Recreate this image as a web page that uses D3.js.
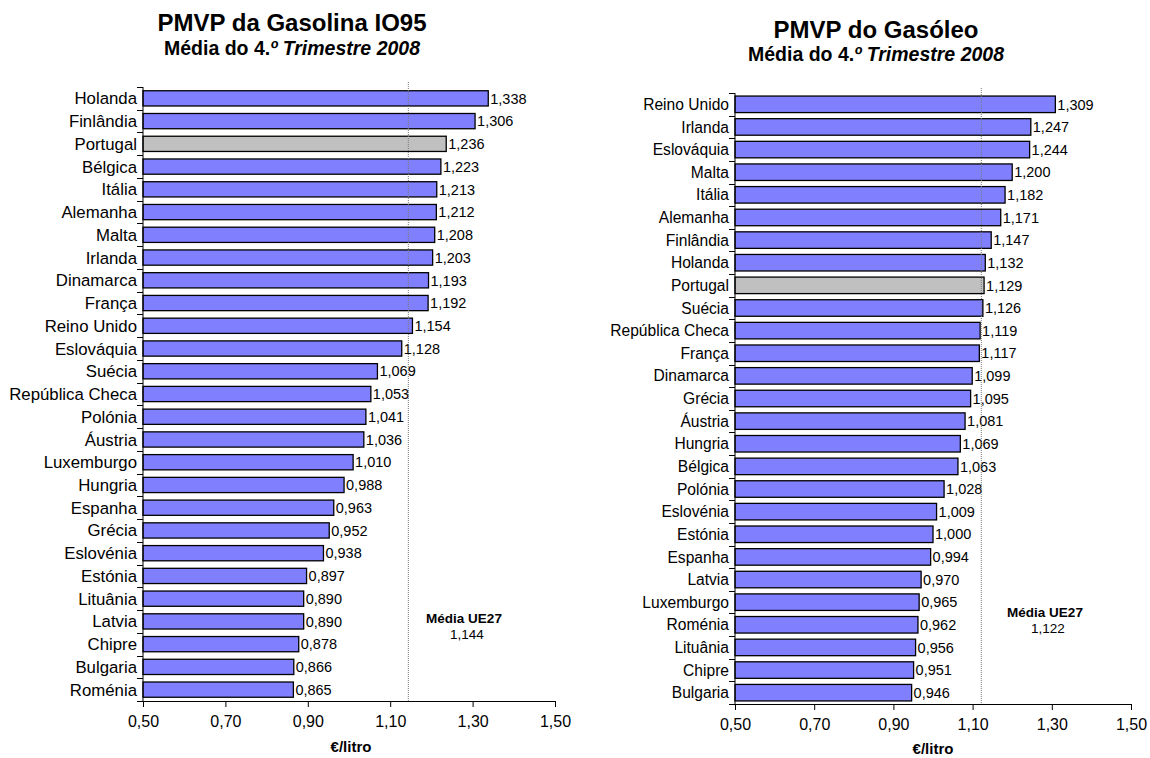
<!DOCTYPE html>
<html><head><meta charset="utf-8">
<script src="https://cdn.jsdelivr.net/npm/d3@7"></script>
<style>body{margin:0;background:#fff;}svg{display:block;font-family:Arial,"Liberation Sans",sans-serif;}</style>
</head><body>
<svg id="c" width="1150" height="758"></svg>
<script>
const gasCountries = ["Holanda","Finlândia","Portugal","Bélgica","Itália","Alemanha","Malta","Irlanda","Dinamarca","França","Reino Unido","Eslováquia","Suécia","República Checa","Polónia","Áustria","Luxemburgo","Hungria","Espanha","Grécia","Eslovénia","Estónia","Lituânia","Latvia","Chipre","Bulgaria","Roménia"];
const gasValues = [1.338,1.306,1.236,1.223,1.213,1.212,1.208,1.203,1.193,1.192,1.154,1.128,1.069,1.053,1.041,1.036,1.010,0.988,0.963,0.952,0.938,0.897,0.890,0.890,0.878,0.866,0.865];
const gasAvg = 1.144;

const dieCountries = ["Reino Unido","Irlanda","Eslováquia","Malta","Itália","Alemanha","Finlândia","Holanda","Portugal","Suécia","República Checa","França","Dinamarca","Grécia","Áustria","Hungria","Bélgica","Polónia","Eslovénia","Estónia","Espanha","Latvia","Luxemburgo","Roménia","Lituânia","Chipre","Bulgaria"];
const dieValues = [1.309,1.247,1.244,1.200,1.182,1.171,1.147,1.132,1.129,1.126,1.119,1.117,1.099,1.095,1.081,1.069,1.063,1.028,1.009,1.000,0.994,0.970,0.965,0.962,0.956,0.951,0.946];
const dieAvg = 1.122;

const xTicks = [0.5,0.7,0.9,1.1,1.3,1.5];
const highlight = "Portugal";
const fmt = v => d3.format(".3f")(v).replace(".", ",");
const fmtT = v => d3.format(".2f")(v).replace(".", ",");

const svg = d3.select("#c");

function drawChart(o) {
  const g = svg.append("g");
  const x = d3.scaleLinear().domain([0.5,1.5]).range([o.x0,o.x1]);
  const y = d3.scaleBand().domain(o.cats).range([o.y0,o.y1]).paddingInner(o.pad).paddingOuter(o.pad/2);
  const data = o.cats.map((c,i)=>({c, v:o.vals[i]}));

  // titles
  g.append("text").attr("x",o.tx).attr("y",o.ty1).attr("text-anchor","middle")
    .attr("font-size",24).attr("font-weight","bold").text(o.title);
  const st = g.append("text").attr("x",o.tx).attr("y",o.ty2).attr("text-anchor","middle")
    .attr("font-size",19.5).attr("font-weight","bold");
  st.append("tspan").text("Média do 4.");
  st.append("tspan").attr("font-style","italic").text("º Trimestre 2008");

  // bars
  g.selectAll("rect.bar").data(data).join("rect")
    .attr("x",x(0.5)).attr("y",d=>y(d.c))
    .attr("width",d=>x(d.v)-x(0.5)).attr("height",y.bandwidth())
    .attr("fill",d=>d.c===highlight?"#c0c0c0":"#8080ff")
    .attr("stroke","#000").attr("stroke-width",1.3);

  // value labels
  g.selectAll("text.val").data(data).join("text")
    .attr("x",d=>x(d.v)+2).attr("y",d=>y(d.c)+y.bandwidth()/2)
    .attr("dy","0.36em").attr("font-size",14.5).text(d=>fmt(d.v));

  // average line
  g.append("line").attr("x1",x(o.avg)).attr("x2",x(o.avg))
    .attr("y1",o.y0-5).attr("y2",o.y1)
    .attr("stroke","#777").attr("stroke-width",1).attr("stroke-dasharray","1,1");
  g.append("text").attr("x",o.ax).attr("y",o.ay).attr("text-anchor","middle")
    .attr("font-size",13.5).attr("font-weight","bold").text("Média UE27");
  g.append("text").attr("x",o.ax+3).attr("y",o.ay+16).attr("text-anchor","middle")
    .attr("font-size",13.5).text(fmt(o.avg));

  // y axis
  g.append("line").attr("x1",o.x0).attr("x2",o.x0).attr("y1",o.y0).attr("y2",o.y1).attr("stroke","#000");
  const bounds = d3.range(o.cats.length+1).map(i=>o.y0 + i*(o.y1-o.y0)/o.cats.length);
  g.selectAll("line.yt").data(bounds).join("line")
    .attr("x1",o.x0-6).attr("x2",o.x0).attr("y1",d=>Math.round(d)+0.5).attr("y2",d=>Math.round(d)+0.5).attr("stroke","#000");
  g.selectAll("text.cat").data(data).join("text")
    .attr("x",o.x0-6).attr("y",d=>y(d.c)+y.bandwidth()/2).attr("dy","0.36em")
    .attr("text-anchor","end").attr("font-size",o.catFs).text(d=>d.c);

  // x axis
  const xa = g.append("g").attr("transform",`translate(0,${o.y1})`)
    .call(d3.axisBottom(x).tickValues(xTicks).tickFormat(fmtT).tickSize(6).tickPadding(9));
  xa.select(".domain").attr("stroke","#000");
  xa.selectAll(".tick line").attr("stroke","#000");
  xa.selectAll("text").attr("font-size",16).attr("font-family","Arial,'Liberation Sans',sans-serif").attr("fill","#000");
  g.append("text").attr("x",o.lx).attr("y",o.ly).attr("text-anchor","middle")
    .attr("font-size",15).attr("font-weight","bold").text("€/litro");
}

drawChart({cats:gasCountries, vals:gasValues, avg:gasAvg, title:"PMVP da Gasolina IO95", catFs:16.8,
  x0:143, x1:555, y0:87, y1:701, pad:0.33, tx:292, ty1:31, ty2:55, ax:464, ay:623, lx:351, ly:752});
drawChart({cats:dieCountries, vals:dieValues, avg:dieAvg, title:"PMVP do Gasóleo", catFs:15.6,
  x0:735, x1:1131, y0:93, y1:704, pad:0.27, tx:876, ty1:38, ty2:61, ax:1045, ay:617, lx:933, ly:754});
</script>
</body></html>
